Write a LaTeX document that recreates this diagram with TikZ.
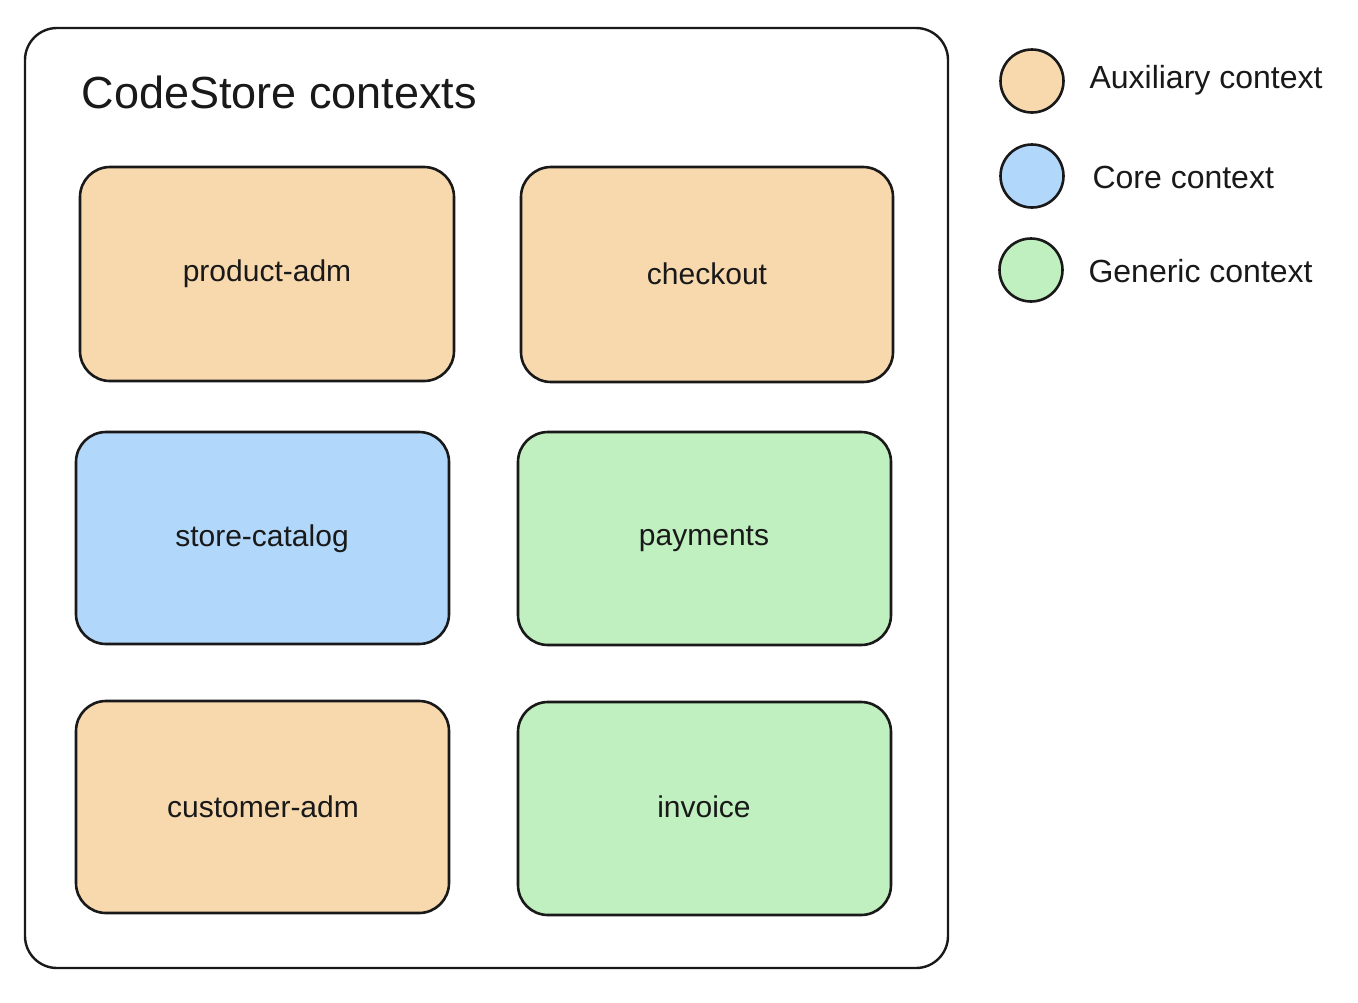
\documentclass[tikz,border=0pt]{standalone}
\usepackage{fontspec}
\setmainfont{Liberation Sans}
\begin{document}
\begin{tikzpicture}[x=1pt,y=-1pt,
  ctx/.style={draw=black!90, line width=2.6pt, rounded corners=30pt},
  aux/.style={ctx, fill=auxc},
  core/.style={ctx, fill=corec},
  gen/.style={ctx, fill=genc},
  lbl/.style={font=\fontsize{30}{34}\selectfont, text=black!90},
  leg/.style={font=\fontsize{32}{36}\selectfont, text=black!90, anchor=west},
  dot/.style={draw=black!90, line width=2.6pt, circle, minimum size=63pt, inner sep=0pt}
]
\definecolor{auxc}{HTML}{F8D9AE}
\definecolor{corec}{HTML}{B1D7FA}
\definecolor{genc}{HTML}{C0EFC0}
\useasboundingbox (0,0) rectangle (1358,1002);
\fill[white] (0,0) rectangle (1358,1002);
% outer frame
\draw[draw=black!90, line width=2.4pt, rounded corners=32pt, fill=white] (25,28) rectangle (948,968);
\node[anchor=west, font=\fontsize{45}{50}\selectfont, text=black!90] (title) at (78,92) {CodeStore contexts};
% context boxes
\draw[aux]  (80,167) rectangle (454,381);
\node[lbl] (pa) at (267,274) {product-adm};
\draw[aux]  (521,167) rectangle (893,382);
\node[lbl] (co) at (707,274) {checkout};
\draw[core] (76,432) rectangle (449,644);
\node[lbl] (sc) at (262,539) {store-catalog};
\draw[gen]  (518,432) rectangle (891,645);
\node[lbl] (pm) at (704,539) {payments};
\draw[aux]  (76,701) rectangle (449,913);
\node[lbl] (ca) at (263,807) {customer-adm};
\draw[gen]  (518,702) rectangle (891,915);
\node[lbl] (iv) at (704,807) {invoice};
% legend
\node[dot, fill=auxc] (la) at (1032,81) {};
\node[leg] (lat) at (1086,80) {Auxiliary context};
\node[leg] (lct) at (1089,177) {Core context};
\node[dot, fill=corec] (lc) at (1032,176) {};
\node[dot, fill=genc] (lg) at (1031,270) {};
\node[leg] (lgt) at (1085,271) {Generic context};
\end{tikzpicture}
\end{document}
